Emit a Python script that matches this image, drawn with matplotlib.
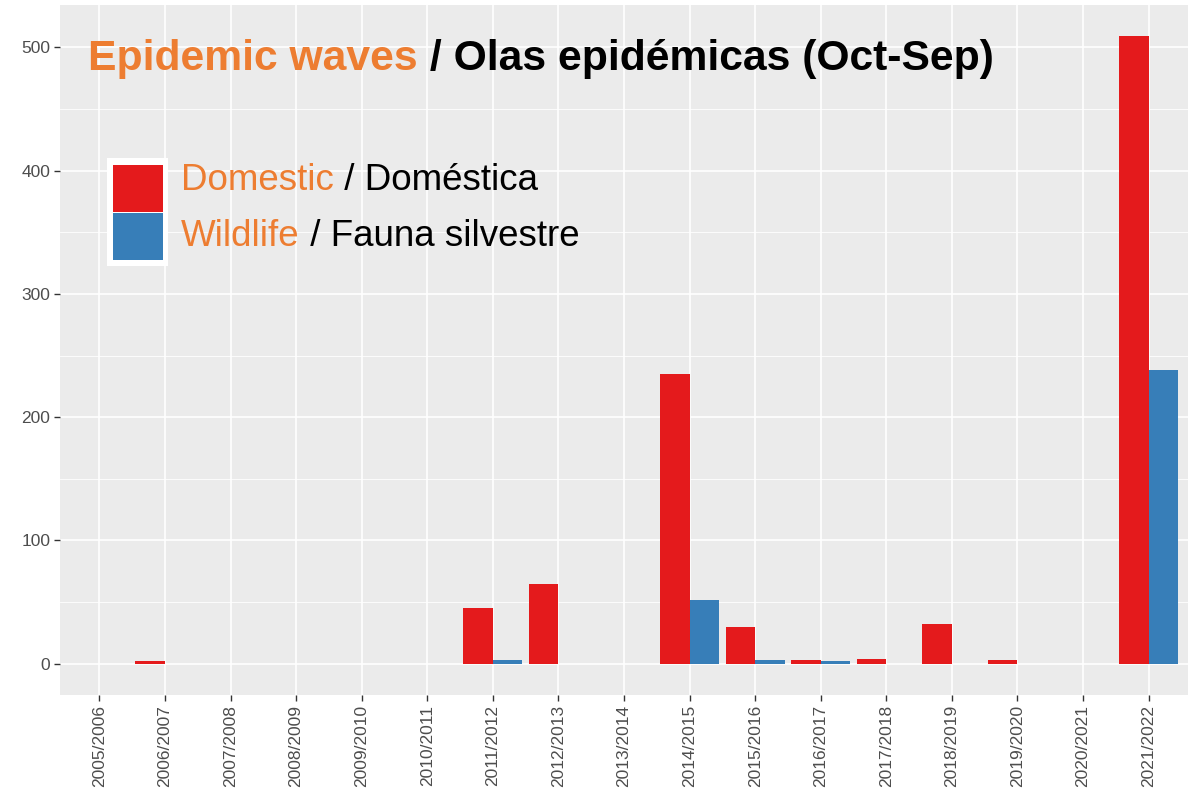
import numpy as np
import matplotlib
matplotlib.use("Agg")
import matplotlib.pyplot as plt
from matplotlib.patches import Rectangle

plt.rcParams['font.family'] = ['Liberation Sans', 'DejaVu Sans']

seasons = ["2005/2006", "2006/2007", "2007/2008", "2008/2009", "2009/2010",
           "2010/2011", "2011/2012", "2012/2013", "2013/2014", "2014/2015",
           "2015/2016", "2016/2017", "2017/2018", "2018/2019", "2019/2020",
           "2020/2021", "2021/2022"]
domestic = [0, 2, 0, 0, 0, 0, 45, 65, 0, 235, 30, 3, 4, 32, 3, 0, 509]
wildlife = [0, 0, 0, 0, 0, 0, 3, 0, 0, 52, 3, 2, 0, 0, 0, 0, 238]
yticks = [0, 100, 200, 300, 400, 500]

RED = "#E41A1C"
BLUE = "#377EB8"
ORANGE = "#ED7D31"
W, H = 1197, 794

fig = plt.figure(figsize=(W / 100, H / 100), dpi=100)
ax = fig.add_axes([60 / W, 1 - 695 / H, (1188 - 60) / W, (695 - 5) / H])
ax.set_facecolor("#EBEBEB")

x = np.arange(len(seasons))
bw = 0.45
ax.bar(x - bw / 2, domestic, bw, color=RED, zorder=3)
ax.bar(x + bw / 2, wildlife, bw, color=BLUE, zorder=3)

ax.set_yticks(yticks)
ax.set_yticks([v + 50 for v in yticks[:-1]], minor=True)
ax.set_xticks(x)
ax.set_xticklabels(seasons, rotation=90)

# ggplot-like 5% expansion
ymax = max(max(domestic), max(wildlife))
ax.set_ylim(-0.05 * ymax, ymax * 1.05)
ax.set_xlim(-0.6, len(seasons) - 0.4)

ax.grid(which="major", color="white", lw=1.2)
ax.grid(which="minor", axis="y", color="white", lw=0.6)
ax.set_axisbelow(True)
for s in ax.spines.values():
    s.set_visible(False)
ax.tick_params(which="major", color="#333333", length=4, width=1,
               labelcolor="#4D4D4D", labelsize=12.5, pad=3)
ax.tick_params(which="minor", length=0)

# title, two colours
renderer = fig.canvas.get_renderer()
t1 = fig.text(88 / W, 1 - 70 / H, "Epidemic waves", color=ORANGE,
              fontsize=30.7, fontweight="bold", va="baseline")
bb = t1.get_window_extent(renderer)
fig.text(bb.x1 / W, 1 - 70 / H, " / Olas epidémicas (Oct-Sep)", color="black",
         fontsize=30.7, fontweight="bold", va="baseline")

# legend drawn by hand
fig.patches.append(Rectangle((107 / W, 1 - 266 / H), 61 / W, 108 / H, fc="white",
                             ec="none", transform=fig.transFigure, figure=fig))
fig.patches.append(Rectangle((113 / W, 1 - 212 / H), 50 / W, 47 / H, fc=RED,
                             ec="none", transform=fig.transFigure, figure=fig))
fig.patches.append(Rectangle((113 / W, 1 - 260 / H), 50 / W, 47 / H, fc=BLUE,
                             ec="none", transform=fig.transFigure, figure=fig))

rows = [("Domestic", " / Doméstica", 190), ("Wildlife", " / Fauna silvestre", 246)]
for en, es, yb in rows:
    a = fig.text(181 / W, 1 - yb / H, en, color=ORANGE, fontsize=26.5, va="baseline")
    bb = a.get_window_extent(renderer)
    fig.text(bb.x1 / W, 1 - yb / H, es, color="black", fontsize=26.5, va="baseline")

fig.savefig("out.png", dpi=100)
